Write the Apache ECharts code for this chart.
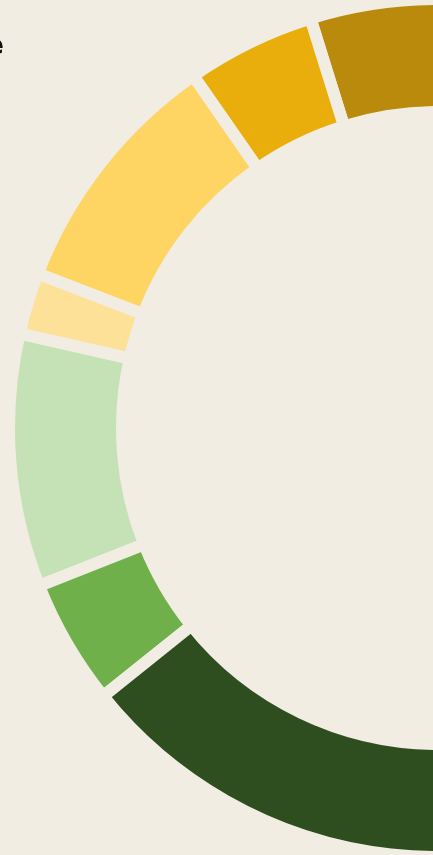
<!DOCTYPE html>
<html>
<head>
<meta charset="utf-8">
<script src="https://cdn.jsdelivr.net/npm/echarts@6/dist/echarts.min.js"></script>
<style>
  html, body { margin: 0; padding: 0; background: #F1EDE3; }
  #chart { width: 433px; height: 855px; }
</style>
</head>
<body>
<div id="chart"></div>
<script>
// Categories (ordered counter-clockwise from 3 o'clock)
const categories = ['Very high', 'High', 'Moderately high', 'Slightly high', 'Slightly low', 'Low', 'Very low'];
// Slice values (read from the visible arc, in degrees of the full ring)
const values = [107.3, 17.5, 34.1, 8.4, 34.3, 17.1, 141.3];
const colors = ['#B98A0B', '#E9AE0B', '#FED563', '#FEE198', '#C4E2B5', '#70B04A', '#2F4E1F'];
const titleText = 'Share';

const chart = echarts.init(document.getElementById('chart'));
chart.setOption({
  backgroundColor: '#F1EDE3',
  animation: false,
  graphic: [{
    type: 'text',
    x: 4, y: 47,
    style: {
      text: titleText,
      fill: '#111',
      font: 'bold 26px "DejaVu Sans"',
      textAlign: 'right',
      textVerticalAlign: 'middle'
    }
  }],
  series: [{
    type: 'pie',
    center: [438, 428],
    radius: [316, 429],
    startAngle: 0,
    clockwise: false,
    label: { show: false },
    labelLine: { show: false },
    emphasis: { disabled: true },
    itemStyle: { borderColor: '#F1EDE3', borderWidth: 12 },
    data: categories.map((c, i) => ({ name: c, value: values[i], itemStyle: { color: colors[i] } }))
  }]
});
</script>
</body>
</html>
